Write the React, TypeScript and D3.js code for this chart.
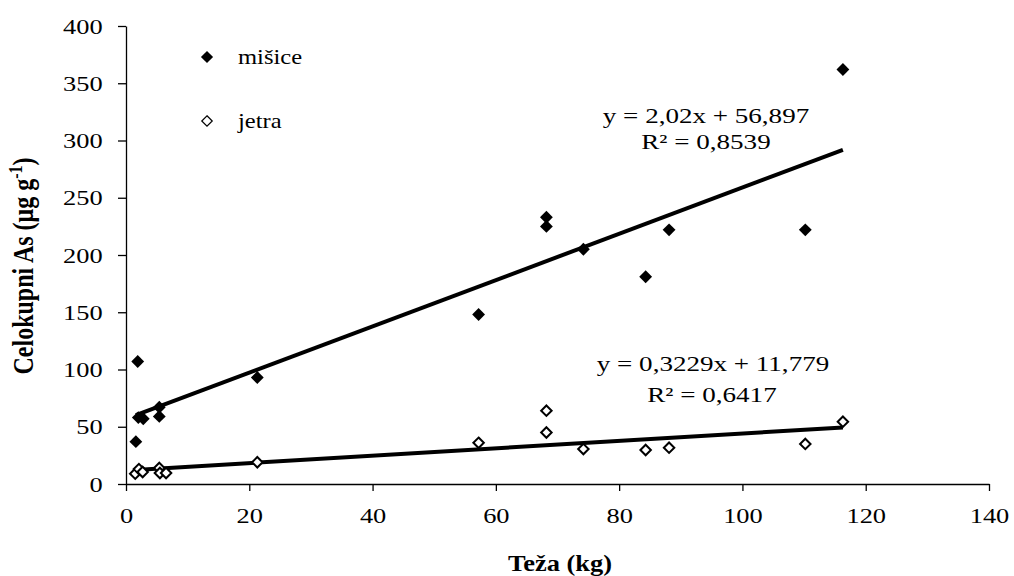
import React, { useEffect, useRef } from "react"
import * as d3 from "d3"

// weight (kg) and total As (ug/g)
const misiceX = [1.6, 1.9, 2.0, 2.8, 5.4, 5.4, 21.3, 57.2, 68.2, 68.2, 74.2, 84.3, 88.1, 110.2, 116.3]
const misiceY = [37, 107, 58, 57, 67, 59, 93, 148, 233, 225, 205, 181, 222, 222, 362]
const jetraX = [1.5, 2.1, 2.7, 5.4, 5.5, 6.5, 21.3, 57.2, 68.2, 68.2, 74.2, 84.3, 88.1, 110.2, 116.3]
const jetraY = [9, 13, 10.5, 14, 9.6, 9.6, 19, 36, 64, 45, 30.5, 29.7, 31.7, 35, 54.4]

const xTicks = [0, 20, 40, 60, 80, 100, 120, 140]
const yTicks = [0, 50, 100, 150, 200, 250, 300, 350, 400]

// linear trend: [slope, intercept]
const misiceFit = [2.02, 56.897]
const jetraFit = [0.3229, 11.779]

const W = 1014
const H = 576
const left = 126, right = 989, top = 26, bottom = 484
const serif = "Liberation Serif, Times New Roman, serif"
// the original picture is stretched sideways, text too
const stretch = 1.2

export default function App() {
  const ref = useRef<SVGSVGElement>(null)

  useEffect(() => {
    const svg = d3.select(ref.current)
    svg.selectAll("*").remove()

    const x = d3.scaleLinear().domain([0, 140]).range([left, right])
    const y = d3.scaleLinear().domain([0, 400]).range([bottom, top])

    const xAxis = svg.append("g")
      .attr("transform", "translate(0," + bottom + ")")
      .call(d3.axisBottom(x).tickValues(xTicks).tickSize(7).tickPadding(16).tickSizeOuter(0))
    xAxis.attr("font-family", null).attr("font-size", null)
    xAxis.selectAll("text").style("font-size", "22px").style("font-family", serif)
      .attr("fill", "#000").attr("transform", "scale(" + stretch + ",1)")
    xAxis.selectAll("line,path").attr("stroke", "#000").attr("stroke-width", 1.3)

    const yAxis = svg.append("g")
      .attr("transform", "translate(" + left + ",0)")
      .call(d3.axisLeft(y).tickValues(yTicks).tickSize(8).tickPadding(11.5).tickSizeOuter(0))
    yAxis.attr("font-family", null).attr("font-size", null)
    yAxis.selectAll("text").style("font-size", "22px").style("font-family", serif)
      .attr("fill", "#000").attr("transform", "scale(" + stretch + ",1)")
    yAxis.selectAll("line,path").attr("stroke", "#000").attr("stroke-width", 1.3)

    // trend lines
    const fits: [number[], number[]][] = [[misiceX, misiceFit], [jetraX, jetraFit]]
    fits.forEach(([xs, fit]) => {
      const ext = d3.extent(xs) as [number, number]
      svg.append("path")
        .attr("d", d3.line<number>().x(d => x(d)).y(d => y(fit[0] * d + fit[1]))(ext))
        .attr("stroke", "#000")
        .attr("stroke-width", 4)
        .attr("fill", "none")
    })

    const diamond = d3.symbol().type(d3.symbolDiamond2)

    // jetra, open diamonds
    svg.append("g").selectAll("path")
      .data(jetraX.map((d, i) => [d, jetraY[i]]))
      .enter().append("path")
      .attr("d", diamond.size(70)())
      .attr("transform", d => "translate(" + x(d[0]) + "," + y(d[1]) + ")")
      .attr("fill", "#fff")
      .attr("stroke", "#000")
      .attr("stroke-width", 2)

    // misice, filled diamonds
    svg.append("g").selectAll("path")
      .data(misiceX.map((d, i) => [d, misiceY[i]]))
      .enter().append("path")
      .attr("d", diamond.size(105)())
      .attr("transform", d => "translate(" + x(d[0]) + "," + y(d[1]) + ")")
      .attr("fill", "#000")

    const txt = (t: string, tx: number, ty: number, size: number, sx: number, anchor = "start") =>
      svg.append("text").text(t)
        .attr("transform", "translate(" + tx + "," + ty + ") scale(" + sx + ",1)")
        .attr("text-anchor", anchor)
        .style("font-size", size + "px").style("font-family", serif)

    // legend
    svg.append("path").attr("d", diamond.size(95)()).attr("transform", "translate(207,57)").attr("fill", "#000")
    svg.append("path").attr("d", diamond.size(70)()).attr("transform", "translate(207,121)")
      .attr("fill", "#fff").attr("stroke", "#000").attr("stroke-width", 1.2)
    txt("mišice", 238, 64, 21, 1.17)
    txt("jetra", 238, 128, 21, 1.17)

    // equations
    txt("y = 2,02x + 56,897", 706, 123, 22, 1.23, "middle")
    txt("R² = 0,8539", 706, 149, 22, 1.23, "middle")
    txt("y = 0,3229x + 11,779", 713, 371, 22, 1.23, "middle")
    txt("R² = 0,6417", 712, 402, 22, 1.23, "middle")

    // axis titles
    txt("Teža (kg)", 560, 571, 23, 1.15, "middle").style("font-weight", "bold")

    const yt = svg.append("text")
      .attr("transform", "translate(33,266) rotate(-90) scale(1," + stretch + ")")
      .attr("text-anchor", "middle")
      .style("font-size", "24px").style("font-weight", "bold").style("font-family", serif)
    yt.append("tspan").text("Celokupni As (μg g")
    yt.append("tspan").text("-1").attr("dy", -9).style("font-size", "16px")
    yt.append("tspan").text(")").attr("dy", 9)
  }, [])

  return (
    <svg ref={ref} width={W} height={H}
      style={{ position: "absolute", left: 0, top: 0, background: "#fff" }} />
  )
}
